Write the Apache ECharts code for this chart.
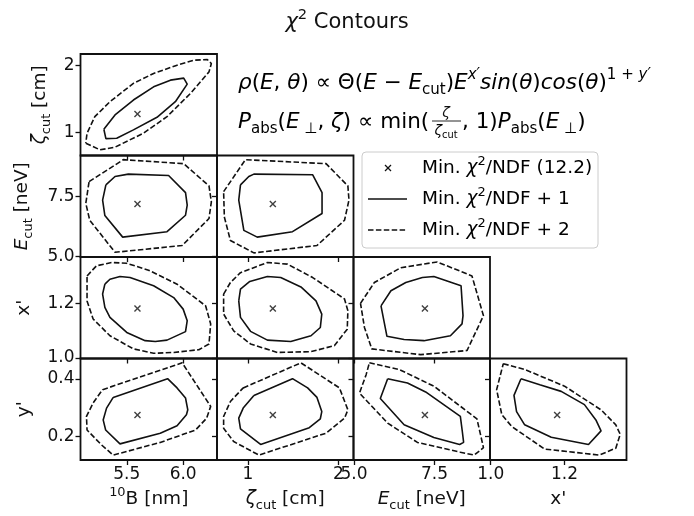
<!DOCTYPE html>
<html>
<head>
<meta charset="utf-8">
<script src="https://cdn.jsdelivr.net/npm/echarts@6/dist/echarts.min.js"></script>
<style>
html, body { margin: 0; padding: 0; background: #fff; }
#chart { width: 694px; height: 516px; }
</style>
</head>
<body>
<div id="chart"></div>
<script>
// best fit (min chi2/NDF) values: 10B [nm], zeta_cut [cm], E_cut [neV], x', y'
var minB = 5.595, minZeta = 1.276, minE = 7.2, minXp = 1.18, minYp = 0.275;

// tick values for each parameter
var ticksB = [5.5, 6.0];
var ticksZeta = [1, 2];
var ticksE = [5.0, 7.5];
var ticksXp = [1.0, 1.2];
var ticksYp = [0.2, 0.4];

// contours, [x, y] in data units
// zeta_cut vs 10B
var solidZetaB = [[5.297,1.050],[5.315,0.911],[5.411,0.917],[5.559,1.040],[5.768,1.227],[5.931,1.458],[6.036,1.719],[6.005,1.808],[5.887,1.778],[5.738,1.679],[5.559,1.483],[5.396,1.261]];
var dashZetaB = [[5.137,0.843],[5.262,0.744],[5.396,0.784],[5.648,0.991],[5.857,1.236],[6.065,1.582],[6.229,1.901],[6.25,2.025],[6.214,2.084],[6.095,2.074],[5.946,2.0],[5.738,1.877],[5.559,1.730],[5.351,1.458],[5.217,1.236],[5.148,0.991]];
// E_cut vs 10B
var solidEB = [[5.315,7.993],[5.396,8.343],[5.514,8.444],[5.871,8.385],[6.021,7.669],[6.036,7.150],[6.021,6.728],[5.857,6.041],[5.464,5.814],[5.306,6.716],[5.286,7.361]];
var dashEB = [[5.166,8.132],[5.470,9.047],[6.005,8.879],[6.229,7.951],[6.25,7.289],[6.229,6.589],[5.991,5.464],[5.396,5.181],[5.172,6.518],[5.137,7.222]];
// E_cut vs zeta_cut
var solidEZeta = [[0.919,7.993],[1.011,8.343],[1.067,8.444],[1.716,8.414],[1.819,7.669],[1.819,6.800],[1.493,6.041],[1.104,5.814],[0.956,6.096],[0.9,7.361]];
var dashEZeta = [[0.733,7.711],[0.974,9.047],[1.863,8.879],[2.104,7.951],[2.116,7.361],[2.067,6.518],[1.763,5.464],[1.067,5.156],[0.808,5.675],[0.741,6.657]];
// x' vs 10B
var solidXpB = [[5.306,1.269],[5.351,1.287],[5.440,1.297],[5.529,1.293],[5.738,1.263],[5.916,1.220],[6.0,1.178],[6.036,1.136],[6.021,1.096],[5.857,1.065],[5.753,1.060],[5.663,1.063],[5.5,1.093],[5.351,1.148],[5.306,1.184],[5.286,1.233]];
var dashXpB = [[5.148,1.299],[5.232,1.336],[5.366,1.348],[5.5,1.345],[5.693,1.320],[5.946,1.269],[6.199,1.190],[6.244,1.124],[6.229,1.051],[6.139,1.030],[5.916,1.020],[5.738,1.017],[5.559,1.033],[5.351,1.081],[5.202,1.142],[5.148,1.208]];
// x' vs zeta_cut
var solidXpZeta = [[0.9,1.208],[0.919,1.251],[1.022,1.279],[1.216,1.297],[1.363,1.293],[1.586,1.259],[1.752,1.208],[1.816,1.160],[1.8,1.111],[1.697,1.081],[1.474,1.060],[1.216,1.065],[1.03,1.097],[0.919,1.148]];
var dashXpZeta = [[0.733,1.233],[0.808,1.275],[0.919,1.311],[1.216,1.348],[1.438,1.342],[1.716,1.293],[2.067,1.215],[2.104,1.172],[2.097,1.105],[1.956,1.045],[1.697,1.023],[1.327,1.020],[1.030,1.051],[0.844,1.099],[0.733,1.160]];
// x' vs E_cut
var solidXpE = [[5.838,1.190],[6.146,1.245],[6.608,1.275],[7.122,1.293],[7.478,1.297],[8.322,1.263],[8.383,1.154],[8.352,1.124],[7.992,1.081],[7.171,1.063],[6.555,1.067],[6.023,1.079]];
var dashXpE = [[5.202,1.199],[5.632,1.275],[6.454,1.329],[7.583,1.350],[8.660,1.299],[9.017,1.154],[8.506,1.027],[7.069,1.012],[5.552,1.033],[5.325,1.111]];
// y' vs 10B
var solidYpB = [[5.380,0.336],[5.862,0.401],[5.946,0.369],[6.021,0.334],[6.041,0.293],[6.029,0.276],[5.946,0.238],[5.797,0.212],[5.440,0.175],[5.313,0.223],[5.291,0.258],[5.321,0.299]];
var dashYpB = [[5.286,0.363],[5.991,0.456],[6.244,0.305],[6.208,0.264],[6.110,0.223],[5.797,0.180],[5.380,0.136],[5.277,0.171],[5.148,0.223],[5.143,0.270],[5.202,0.317]];
// y' vs zeta_cut
var solidYpZeta = [[1.067,0.343],[1.493,0.401],[1.660,0.369],[1.763,0.336],[1.816,0.287],[1.8,0.262],[1.678,0.231],[1.141,0.173],[0.919,0.227],[0.9,0.264],[0.949,0.299]];
var dashYpZeta = [[0.949,0.369],[1.586,0.456],[2.011,0.369],[2.104,0.293],[2.067,0.264],[1.863,0.212],[1.122,0.136],[0.844,0.183],[0.733,0.229],[0.733,0.270],[0.808,0.322]];
// y' vs E_cut
var solidYpE = [[6.045,0.401],[6.660,0.386],[7.223,0.355],[8.3,0.270],[8.362,0.217],[8.402,0.180],[8.278,0.173],[7.478,0.197],[6.555,0.241],[5.817,0.332]];
var dashYpE = [[5.478,0.456],[6.402,0.433],[7.478,0.375],[8.814,0.262],[9.017,0.162],[8.731,0.136],[8.3,0.146],[6.968,0.180],[6.045,0.247],[5.171,0.351],[5.377,0.415]];
// y' vs x'
var solidYpXp = [[1.082,0.401],[1.133,0.380],[1.191,0.357],[1.254,0.311],[1.285,0.258],[1.299,0.220],[1.265,0.173],[1.164,0.198],[1.092,0.241],[1.070,0.287],[1.063,0.343]];
var dashYpXp = [[1.034,0.453],[1.092,0.433],[1.2,0.375],[1.299,0.293],[1.339,0.241],[1.351,0.208],[1.339,0.160],[1.294,0.136],[1.146,0.157],[1.057,0.235],[1.030,0.276],[1.016,0.363]];

var FONT = 'DejaVu Sans';
var INK = '#111111';
var FS = 17;   // tick labels
var LS = 18.5; // axis names, legend

function rich(size) {
  var base = { fontFamily: FONT, fontSize: size, color: INK, fontWeight: 'normal', lineHeight: size * 1.4 };
  var small = { fontFamily: FONT, fontSize: size * 0.7, color: INK, fontWeight: 'normal', lineHeight: size * 0.9 };
  return {
    n: base,
    i: Object.assign({}, base, { fontStyle: 'italic' }),
    sub: Object.assign({}, small, { verticalAlign: 'bottom' }),
    sup: Object.assign({}, small, { verticalAlign: 'top' }),
    isup: Object.assign({}, small, { verticalAlign: 'top', fontStyle: 'italic' })
  };
}

var params = [
  { val: minB, min: 5.09, max: 6.30, ticks: ticksB, dec: 1, name: '{sup|10}{n|B [nm]}', yGap: 0 },
  { val: minZeta, min: 0.66, max: 2.166, ticks: ticksZeta, dec: 0, name: '{i|ζ}{sub|cut}{n| [cm]}', yGap: 27 },
  { val: minE, min: 4.985, max: 9.22, ticks: ticksE, dec: 1, name: '{i|E}{sub|cut}{n| [neV]}', yGap: 45 },
  { val: minXp, min: 0.998, max: 1.368, ticks: ticksXp, dec: 1, name: "{n|x'}", yGap: 43 },
  { val: minYp, min: 0.119, max: 0.471, ticks: ticksYp, dec: 1, name: "{n|y'}", yGap: 43 }
];

// contours by [row][col]
var contours = [
  [[solidZetaB, dashZetaB]],
  [[solidEB, dashEB], [solidEZeta, dashEZeta]],
  [[solidXpB, dashXpB], [solidXpZeta, dashXpZeta], [solidXpE, dashXpE]],
  [[solidYpB, dashYpB], [solidYpZeta, dashYpZeta], [solidYpE, dashYpE], [solidYpXp, dashYpXp]]
];

var X_PATH = 'path://M0,1.4L1.4,0L5,3.6L8.6,0L10,1.4L6.4,5L10,8.6L8.6,10L5,6.4L1.4,10L0,8.6L3.6,5Z';

function closed(pts) { return pts.concat([pts[0]]); }

function axis(p, showLabel, isX, gap) {
  return {
    type: 'value',
    min: p.min,
    max: p.max,
    axisLine: { show: false },
    splitLine: { show: false },
    axisTick: { show: true, customValues: p.ticks, length: 5, lineStyle: { color: INK, width: 1.3 } },
    axisLabel: {
      show: showLabel,
      customValues: p.ticks,
      margin: 6,
      fontFamily: FONT, fontSize: FS, color: INK,
      formatter: function (v) { return v.toFixed(p.dec); }
    },
    name: showLabel ? p.name : '',
    nameLocation: 'middle',
    nameGap: gap,
    nameRotate: isX ? 0 : 90,
    nameTextStyle: { rich: rich(LS) }
  };
}

var grids = [], xAxes = [], yAxes = [], series = [];
var k = 0;
for (var i = 0; i < 4; i++) {
  for (var j = 0; j <= i; j++) {
    grids.push({
      left: 80.5 + j * 136.5, top: 54 + i * 101.5, width: 136.5, height: 101.5,
      show: true, borderColor: INK, borderWidth: 1.8, backgroundColor: 'transparent'
    });
    var px = params[j], py = params[i + 1];
    var xa = axis(px, i === 3, true, 26); xa.gridIndex = k;
    var ya = axis(py, j === 0, false, py.yGap); ya.gridIndex = k;
    xAxes.push(xa); yAxes.push(ya);
    var c = contours[i][j];
    series.push({
      type: 'line', name: 'Min. χ²/NDF + 1', xAxisIndex: k, yAxisIndex: k,
      data: closed(c[0]), symbol: 'none', silent: true,
      lineStyle: { color: INK, width: 1.6 }
    });
    series.push({
      type: 'line', name: 'Min. χ²/NDF + 2', xAxisIndex: k, yAxisIndex: k,
      data: closed(c[1]), symbol: 'none', silent: true,
      lineStyle: { color: INK, width: 1.6, type: [5.5, 2.4] }
    });
    series.push({
      type: 'scatter', name: 'Min. χ²/NDF (12.2)', xAxisIndex: k, yAxisIndex: k,
      data: [[px.val, py.val]], symbol: X_PATH, symbolSize: 7, silent: true,
      itemStyle: { color: INK }
    });
    k++;
  }
}

var FF = 21.5; // formula font size
var legendText = function (tail) {
  return '{n|Min. }{i|χ}{sup|2}{n|/NDF' + tail + '}';
};

var graphic = [
  { type: 'text', x: 238, y: 83, style: { text: '{i|ρ}{n|(}{i|E}{n|, }{i|θ}{n|) ∝ Θ(}{i|E}{n| − }{i|E}{sub|cut}{n|)}{i|E}{isup|x′}{i|sin}{n|(}{i|θ}{n|)}{i|cos}{n|(}{i|θ}{n|)}{sup|1 + }{isup|y′}', rich: rich(FF), verticalAlign: 'middle' } },
  { type: 'text', x: 238, y: 122, style: { text: '{i|P}{sub|abs}{n|(}{i|E}{sub| ⊥}{n|, }{i|ζ}{n|) ∝ min(}', rich: rich(FF), verticalAlign: 'middle' } },
  { type: 'text', x: 446, y: 113, style: { text: 'ζ', fontFamily: FONT, fontStyle: 'italic', fontSize: 14, fill: INK, align: 'center', verticalAlign: 'middle' } },
  { type: 'line', shape: { x1: 432, y1: 121, x2: 461, y2: 121 }, style: { stroke: INK, lineWidth: 0.9 } },
  { type: 'text', x: 446, y: 131, style: { text: '{i|ζ}{sub|cut}', rich: rich(14), align: 'center', verticalAlign: 'middle' } },
  { type: 'text', x: 462, y: 122, style: { text: '{n|, 1)}{i|P}{sub|abs}{n|(}{i|E}{sub| ⊥}{n|)}', rich: rich(FF), verticalAlign: 'middle' } },
  // legend
  { type: 'rect', shape: { x: 362, y: 152, width: 236, height: 96, r: 4 }, style: { fill: 'rgba(255,255,255,0.8)', stroke: '#cccccc', lineWidth: 1 }, z: 10 },
  { type: 'line', shape: { x1: 385, y1: 165, x2: 391, y2: 171 }, style: { stroke: INK, lineWidth: 1.2 }, z: 11 },
  { type: 'line', shape: { x1: 385, y1: 171, x2: 391, y2: 165 }, style: { stroke: INK, lineWidth: 1.2 }, z: 11 },
  { type: 'line', shape: { x1: 368, y1: 199, x2: 407, y2: 199 }, style: { stroke: INK, lineWidth: 1.6 }, z: 11 },
  { type: 'line', shape: { x1: 368, y1: 230, x2: 407, y2: 230 }, style: { stroke: INK, lineWidth: 1.6, lineDash: [5.5, 2.4] }, z: 11 },
  { type: 'text', x: 422, y: 168, style: { text: legendText(' (12.2)'), rich: rich(LS), verticalAlign: 'middle' }, z: 11 },
  { type: 'text', x: 422, y: 199, style: { text: legendText(' + 1'), rich: rich(LS), verticalAlign: 'middle' }, z: 11 },
  { type: 'text', x: 422, y: 230, style: { text: legendText(' + 2'), rich: rich(LS), verticalAlign: 'middle' }, z: 11 }
];

var chart = echarts.init(document.getElementById('chart'), null, { renderer: 'canvas' });
chart.setOption({
  animation: false,
  backgroundColor: '#ffffff',
  title: {
    text: '{i|χ}{sup|2}{n| Contours}',
    left: 'center', top: 3,
    textStyle: { rich: rich(21) }
  },
  grid: grids,
  xAxis: xAxes,
  yAxis: yAxes,
  series: series,
  graphic: graphic
});
</script>
</body>
</html>
